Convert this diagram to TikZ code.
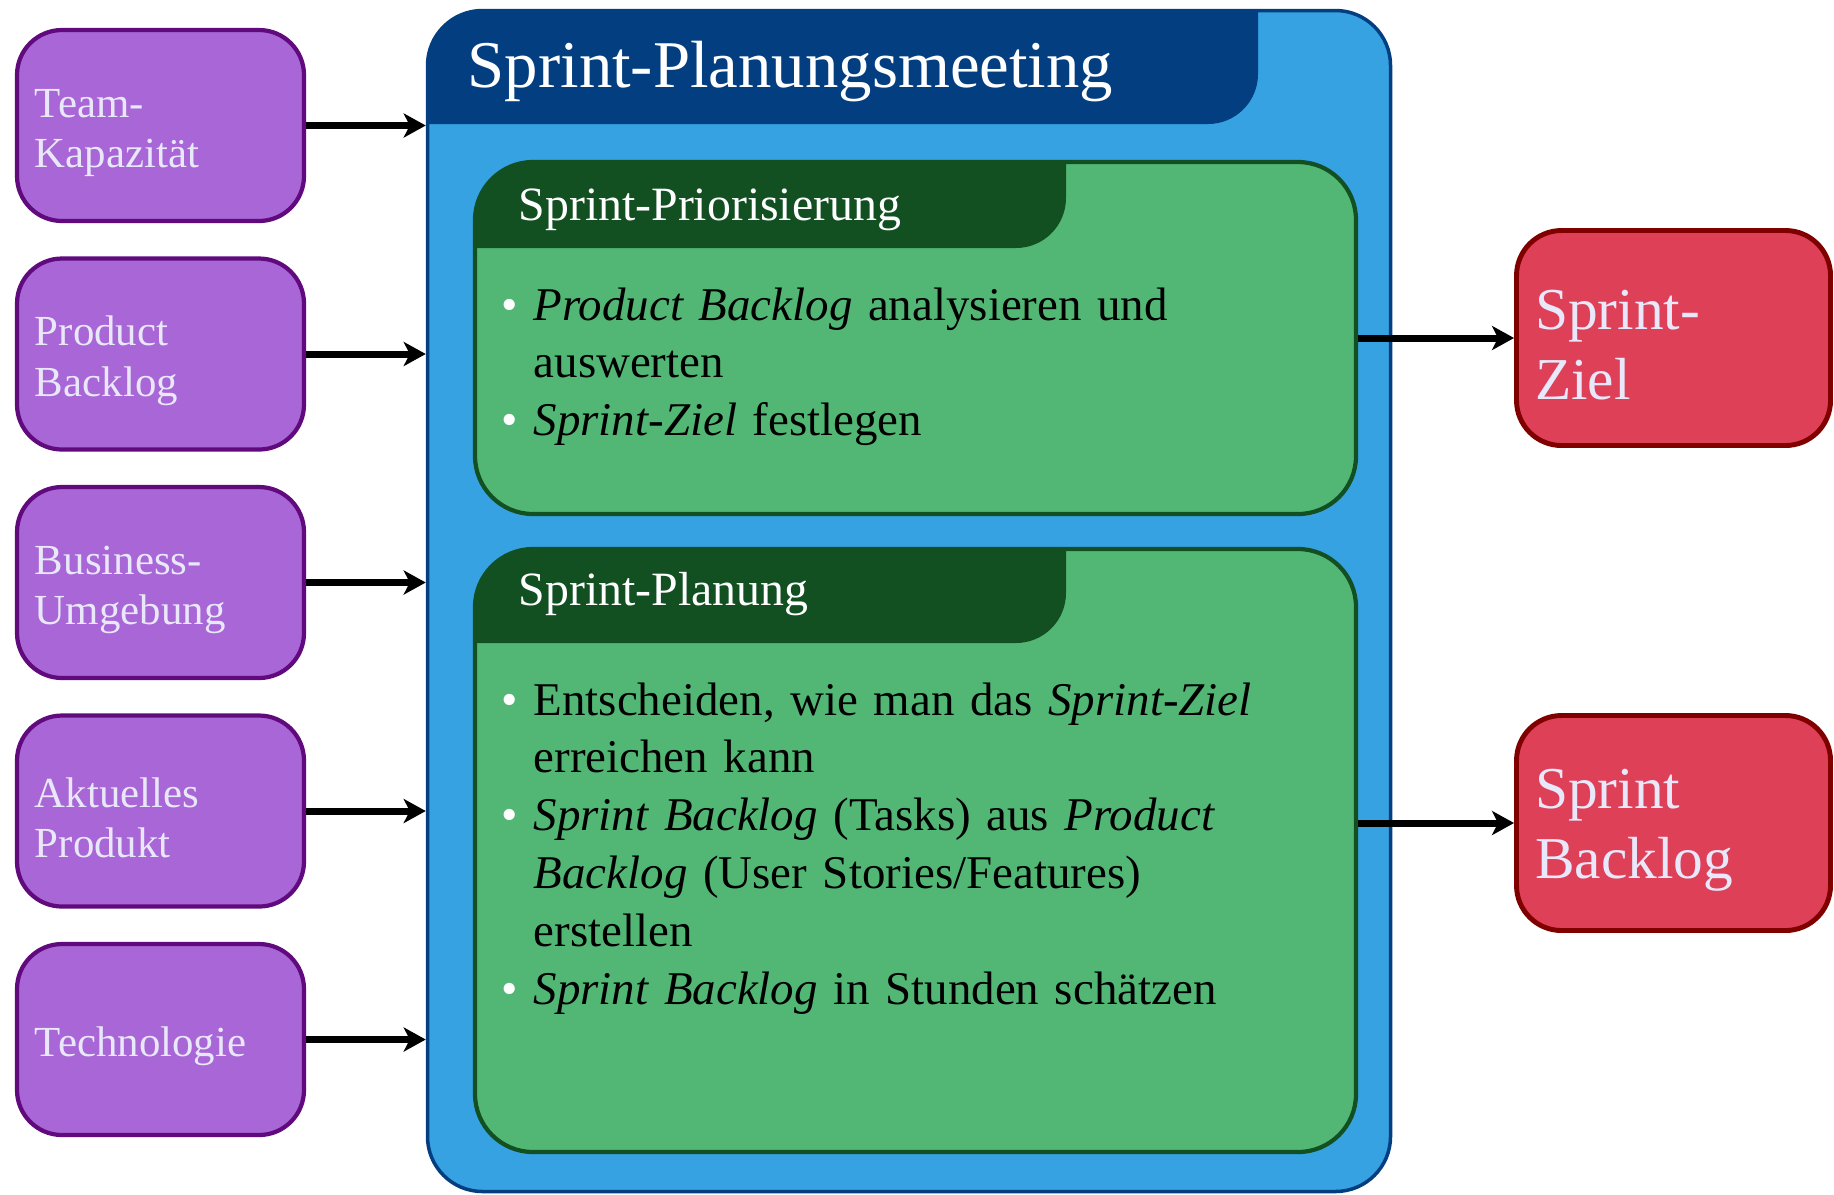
\documentclass[tikz,border=0pt]{standalone}
\usepackage{fontspec}
\setmainfont{Liberation Serif}
\usetikzlibrary{arrows.meta,positioning}

\definecolor{lila}{RGB}{168,102,214}
\definecolor{lilarand}{RGB}{96,10,126}
\definecolor{lavendel}{RGB}{232,232,250}
\definecolor{himmel}{RGB}{54,162,226}
\definecolor{marine}{RGB}{3,62,128}
\definecolor{wiese}{RGB}{82,183,117}
\definecolor{tanne}{RGB}{18,80,34}
\definecolor{kirsch}{RGB}{222,64,88}
\definecolor{weinrot}{RGB}{128,0,0}

\newcommand{\punkt}{\makebox[0.32cm][l]{\textcolor{white}{\textbullet}}}
\newcommand{\weiter}{\hspace*{0.32cm}}

\begin{document}
\begin{tikzpicture}[
    pfeil/.style={-{Stealth[length=0.22cm, width=0.24cm, inset=0.06cm]}, line width=2pt},
    eingang/.style={draw=lilarand, line width=1.2pt, fill=lila, rounded corners=0.45cm,
      minimum width=2.87cm, minimum height=1.91cm, text width=2.51cm, inner xsep=0.18cm,
      align=left, text=lavendel, font=\fontsize{12.2}{14.3}\selectfont,
      execute at begin node={\rule{0pt}{0.43cm}}},
    ergebnis/.style={draw=weinrot, line width=1.4pt, fill=kirsch, rounded corners=0.45cm,
      minimum width=3.14cm, minimum height=2.15cm, text width=2.77cm, inner xsep=0.185cm,
      align=left, text=lavendel, font=\fontsize{16.9}{19.9}\selectfont,
      execute at begin node={\rule{0pt}{0.53cm}}},
    rahmen/.style={draw=marine, line width=1pt, fill=himmel, rounded corners=0.55cm,
      minimum width=9.63cm, minimum height=11.81cm,
      path picture={\fill[marine, rounded corners=0.5cm]
        ([shift={(-1,1)}]path picture bounding box.north west) rectangle
        ([shift={(8.305,-1.135)}]path picture bounding box.north west);}},
    karte/.style={draw=tanne, line width=1.2pt, fill=wiese, rounded corners=0.58cm,
      minimum width=8.81cm,
      path picture={\fill[tanne, rounded corners=0.5cm]
        ([shift={(-1,1)}]path picture bounding box.north west) rectangle
        ([shift={(5.91,-#1)}]path picture bounding box.north west);}},
    kopf/.style={anchor=base west, inner sep=0pt, text=white, font=\fontsize{13.6}{16.2}\selectfont},
    liste/.style={anchor=base west, inner sep=0pt, text width=8cm, align=left,
      font=\fontsize{13.35}{16.45}\selectfont}
  ]
\useasboundingbox (0,0) rectangle (18.34,-11.94);

\node[rahmen] (meeting) at (9.09,-6.01) {};
\node[anchor=base west, inner sep=0pt, text=white, font=\fontsize{19}{23}\selectfont]
    (titel) at (4.67,-0.87) {Sprint-Planungsmeeting};

\node[karte=0.86, minimum height=3.52cm] (prio) at (9.155,-3.38) {};
\node[karte=0.94, minimum height=6.03cm] (planung) at (9.155,-8.505) {};

\node[kopf] (priokopf) at (5.18,-2.20) {Sprint-Priorisierung};
\node[kopf] (plankopf) at (5.18,-6.05) {Sprint-Planung};

\node[liste] (priotext) at (5.01,-3.20)
    {\punkt\emph{Product Backlog} analysieren und\\
     \weiter auswerten\\
     \punkt\emph{Sprint-Ziel} festlegen};
\node[liste] (plantext) at (5.01,-7.15)
    {\punkt Entscheiden, wie man das \emph{Sprint-Ziel}\\
     \weiter erreichen kann\\
     \punkt\emph{Sprint Backlog} (Tasks) aus \emph{Product}\\
     \weiter\emph{Backlog} (User Stories/Features)\\
     \weiter erstellen\\
     \punkt\emph{Sprint Backlog} in Stunden schätzen};

\node[eingang] (team) at (1.605,-1.255) {Team-\\Kapazität};
\node[eingang] (pbl) at (1.605,-3.54) {Product\\Backlog};
\node[eingang] (umgebung) at (1.605,-5.825) {Business-\\Umgebung};
\node[eingang] (produkt) at (1.605,-8.11) {Aktuelles\\Produkt};
\node[eingang] (technik) at (1.605,-10.395) {Technologie};

\node[ergebnis] (ziel) at (16.735,-3.38) {Sprint-\\Ziel};
\node[ergebnis] (sbl) at (16.735,-8.23) {Sprint\\Backlog};

\draw[pfeil] (team.east) -- (meeting.west |- team.east);
\draw[pfeil] (pbl.east) -- (meeting.west |- pbl.east);
\draw[pfeil] (umgebung.east) -- (meeting.west |- umgebung.east);
\draw[pfeil] (produkt.east) -- (meeting.west |- produkt.east);
\draw[pfeil] (technik.east) -- (meeting.west |- technik.east);

\draw[pfeil] (prio.east |- ziel.west) -- (ziel.west);
\draw[pfeil] (planung.east |- sbl.west) -- (sbl.west);
\end{tikzpicture}
\end{document}
